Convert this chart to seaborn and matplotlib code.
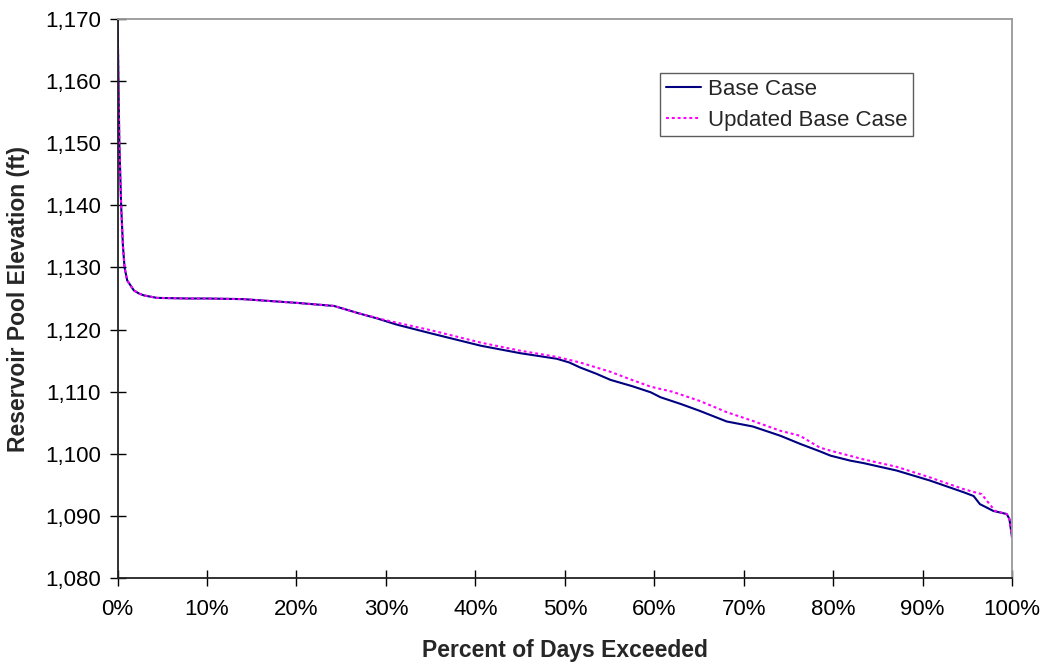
import matplotlib
matplotlib.use("Agg")
import matplotlib.pyplot as plt
import matplotlib.ticker as mticker
import seaborn as sns
import pandas as pd

# Percent of days exceeded (%) and elevation (ft)
base_pct = [0.0, 0.1, 0.2, 0.4, 0.6, 0.78, 1.08, 1.5, 1.82, 2.4, 2.94, 4.4, 7.8, 10.0, 14.0,
            18.0, 20.0, 24.2, 27.0, 29.0, 31.2, 35.0, 40.6, 45.0, 49.1, 50.5, 51.7, 53.5,
            55.1, 57.5, 59.6, 60.7, 63.0, 65.1, 68.1, 71.0, 74.1, 76.3, 78.5, 79.7, 81.9,
            83.4, 87.1, 90.8, 94.6, 95.7, 96.4, 97.9, 99.4, 99.7, 100.0]
base_elev = [1170.0, 1160.0, 1150.0, 1140.0, 1133.5, 1130.0, 1127.9, 1127.0, 1126.3, 1125.8,
             1125.5, 1125.1, 1125.0, 1125.0, 1124.9, 1124.5, 1124.3, 1123.8, 1122.6, 1121.8,
             1120.8, 1119.4, 1117.4, 1116.2, 1115.3, 1114.7, 1113.9, 1112.9, 1111.9, 1110.9,
             1109.9, 1109.1, 1108.0, 1106.9, 1105.2, 1104.4, 1102.9, 1101.6, 1100.4, 1099.7,
             1098.9, 1098.5, 1097.3, 1095.7, 1093.8, 1093.2, 1091.9, 1090.8, 1090.3, 1089.5,
             1086.5]

upd_pct = [0.0, 0.1, 0.2, 0.4, 0.6, 0.78, 1.08, 1.5, 1.82, 2.4, 2.94, 4.4, 7.8, 10.0, 14.0,
           18.0, 20.0, 24.2, 27.0, 30.0, 35.0, 40.6, 45.0, 49.1, 51.7, 55.1, 57.3, 59.6,
           62.0, 65.1, 68.1, 71.0, 74.1, 76.3, 78.5, 79.7, 83.4, 87.1, 90.8, 94.6, 96.6,
           97.2, 98.1, 99.4, 99.7, 100.0]
upd_elev = [1170.0, 1160.0, 1150.0, 1140.0, 1133.5, 1130.0, 1127.9, 1127.0, 1126.3, 1125.8,
            1125.5, 1125.1, 1125.0, 1125.0, 1124.9, 1124.5, 1124.3, 1123.8, 1122.6, 1121.5,
            1119.9, 1117.9, 1116.6, 1115.6, 1114.7, 1113.2, 1112.0, 1110.8, 1110.0, 1108.5,
            1106.7, 1105.3, 1103.7, 1102.9, 1101.0, 1100.5, 1099.1, 1097.9, 1096.2, 1094.3,
            1093.5, 1092.4, 1090.8, 1090.3, 1089.5, 1086.5]

series_names = ["Base Case", "Updated Base Case"]
y_ticks = list(range(1080, 1171, 10))
x_ticks = list(range(0, 101, 10))

sns.set_style("white")
plt.rcParams["font.family"] = ["Liberation Sans", "DejaVu Sans"]

df_base = pd.DataFrame({"pct": base_pct, "elev": base_elev})
df_upd = pd.DataFrame({"pct": upd_pct, "elev": upd_elev})

fig = plt.figure(figsize=(10.45, 6.64), dpi=100)
ax = fig.add_axes([0.1125, 0.1295, 0.856, 0.8419])

sns.lineplot(data=df_base, x="pct", y="elev", ax=ax, color="#000080", lw=1.5,
             estimator=None, sort=False, label=series_names[0])
sns.lineplot(data=df_upd, x="pct", y="elev", ax=ax, color="#FF00FF", lw=1.5,
             estimator=None, sort=False, label=series_names[1],
             linestyle=(0, (1.4, 1.4)))

ax.set_xlim(0, 100)
ax.set_ylim(1080, 1170)
ax.set_xticks(x_ticks)
ax.set_yticks(y_ticks)
ax.xaxis.set_major_formatter(mticker.FuncFormatter(lambda v, p: f"{int(v)}%"))
ax.yaxis.set_major_formatter(mticker.FuncFormatter(lambda v, p: f"{int(v):,}"))
ax.tick_params(axis="both", direction="inout", length=12, width=1, colors="black",
               labelsize=16, bottom=True, left=True)
ax.tick_params(axis="x", pad=9)
ax.tick_params(axis="y", pad=6)

for side in ["left", "bottom"]:
    ax.spines[side].set_color("#222222")
    ax.spines[side].set_linewidth(1.3)
for side in ["top", "right"]:
    ax.spines[side].set_color("#999999")
    ax.spines[side].set_linewidth(1.3)

ax.set_xlabel("Percent of Days Exceeded", fontsize=16.5, fontweight="bold", labelpad=14)
ax.set_ylabel("Reservoir Pool Elevation (ft)", fontsize=16.5, fontweight="bold", labelpad=11)

leg = ax.legend(loc="upper right", bbox_to_anchor=(0.889, 0.903), fontsize=16,
                frameon=True, fancybox=False, handlelength=1.6, handletextpad=0.3,
                borderpad=0.25, labelspacing=0.45, borderaxespad=0)
leg.get_frame().set_edgecolor("#333333")
leg.get_frame().set_linewidth(1.0)

fig.savefig("out.png", dpi=100)
